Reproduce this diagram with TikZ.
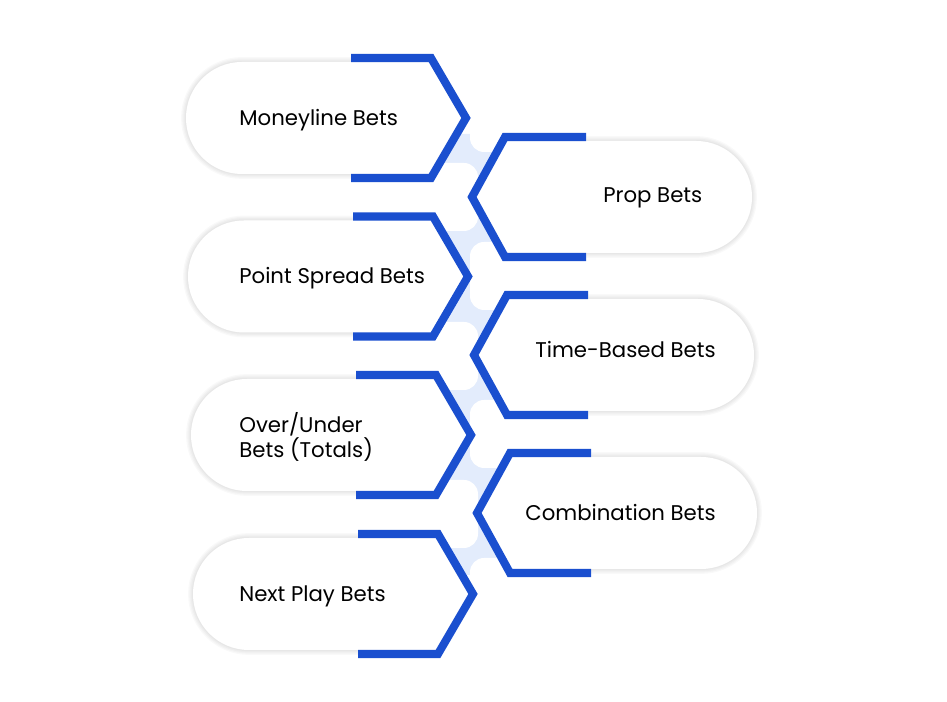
\documentclass[tikz,border=0pt]{standalone}
\usepackage{fontspec}
\setmainfont{Poppins}
\definecolor{betblue}{HTML}{1A4FCF}
\definecolor{bandblue}{HTML}{E3ECFC}
\tikzset{
  betline/.style={draw=betblue, line width=4.6pt, line join=miter},
  halo/.style={draw=black, opacity=0.025},
  blob/.style={fill=white, rounded corners=8pt},
  bettext/.style={font=\fontsize{12.1pt}{14.7pt}\selectfont, text=black, inner sep=0pt}
}
\newcommand{\leftbet}[2]{%
  \foreach \w in {1.4,2.8,4.2,5.6}
    \draw[halo, line width=\w pt] ({361+#2},{#1+56}) -- ({242+#2},{#1+56}) arc[start angle=90, end angle=270, radius=56] -- ({361+#2},{#1-56});
  \fill[white] ({351+#2},{#1+60}) -- ({431+#2},{#1+60}) -- ({466+#2},#1) -- ({431+#2},{#1-60}) -- ({351+#2},{#1-60}) -- ({351+#2},{#1-56}) -- ({242+#2},{#1-56}) arc[start angle=270, end angle=90, radius=56] -- ({351+#2},{#1+56}) -- cycle;
  \draw[betline] ({351+#2},{#1+60}) -- ({431+#2},{#1+60}) -- ({466+#2},#1) -- ({431+#2},{#1-60}) -- ({351+#2},{#1-60});
}
\newcommand{\rightbet}[2]{%
  \foreach \w in {1.4,2.8,4.2,5.6}
    \draw[halo, line width=\w pt] ({576+#2},{#1+56}) -- ({696+#2},{#1+56}) arc[start angle=90, end angle=-90, radius=56] -- ({576+#2},{#1-56});
  \fill[white] ({586+#2},{#1+60}) -- ({505+#2},{#1+60}) -- ({472+#2},#1) -- ({505+#2},{#1-60}) -- ({586+#2},{#1-60}) -- ({586+#2},{#1-56}) -- ({696+#2},{#1-56}) arc[start angle=-90, end angle=90, radius=56] -- ({586+#2},{#1+56}) -- cycle;
  \draw[betline] ({586+#2},{#1+60}) -- ({505+#2},{#1+60}) -- ({472+#2},#1) -- ({505+#2},{#1-60}) -- ({586+#2},{#1-60});
}

\begin{document}
\begin{tikzpicture}[x=0.02cm, y=0.02cm]
\useasboundingbox (0,0) rectangle (947,702);
\fill[bandblue] (450,568) -- (431,524) -- (433,485.5) -- (468,425.5) -- (433,365.5) -- (436,327) -- (471,267) -- (436,207) -- (438,168) -- (455,127) -- (515,127) -- (510,129) -- (477,189) -- (510,249) -- (507,287) -- (474,347) -- (507,407) -- (505,445) -- (472,505) -- (505,565) -- (510,568) -- cycle;
\fill[blob] (425,471) rectangle (478,539);
\fill[blob] (425,312) rectangle (478,380);
\fill[blob] (425,154) rectangle (478,222);
\fill[blob] (470,550) rectangle (515,618);
\fill[blob] (470,392) rectangle (515,460);
\fill[blob] (470,234) rectangle (515,302);
\fill[blob] (470,76) rectangle (515,144);
\leftbet{584}{0}
\leftbet{425.5}{2}
\leftbet{267}{5}
\leftbet{108}{7}
\rightbet{505}{0}
\rightbet{347}{2}
\rightbet{189}{5}
\node[bettext, anchor=base west] (moneyline) at (239,576) {Moneyline Bets};
\node[bettext, anchor=base west] (pointspread) at (239,418) {Point Spread Bets};
\node[bettext, anchor=west, align=left] (overunder) at (239,265) {Over/Under\\Bets (Totals)};
\node[bettext, anchor=base west] (nextplay) at (239,100) {Next Play Bets};
\node[bettext, anchor=base west] (prop) at (603,499) {Prop Bets};
\node[bettext, anchor=base west] (timebased) at (535,344) {Time-Based Bets};
\node[bettext, anchor=base west] (combination) at (525,181) {Combination Bets};
\end{tikzpicture}
\end{document}
